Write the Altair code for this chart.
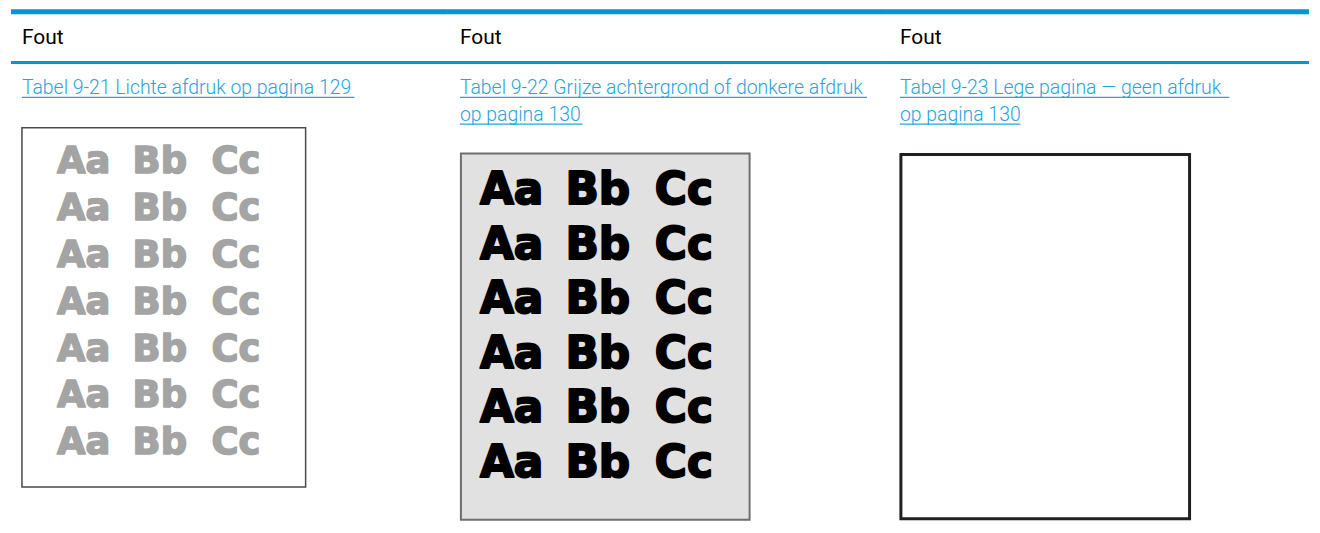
import altair as alt
import pandas as pd

# ---- content ----
HEADERS = ["Fout", "Fout", "Fout"]
LINK_LINES = [
    ["Tabel 9-21 Lichte afdruk op pagina 129"],
    ["Tabel 9-22 Grijze achtergrond of donkere afdruk", "op pagina 130"],
    ["Tabel 9-23 Lege pagina — geen afdruk", "op pagina 130"],
]
SAMPLE_PAIRS = ["Aa", "Bb", "Cc"]
SAMPLE_ROWS = [7, 6, 0]

# ---- styling / layout (panel-local pixels) ----
BLUE = "#0096d6"
LINK = "#2aa2dc"
PANEL_H = 517
LAYOUT = [
    dict(w=439, tx=11, box=(11, 296, 119, 480), fill="#ffffff", stroke="#4a4a4a", sw=1.5,
         gx=(73, 226), gy=(165, 447), fs=37, color="#a4a4a4", tsw=1.6, ul=[345]),
    dict(w=441, tx=12, box=(13, 303, 145, 513), fill="#e1e1e1", stroke="#6e6e6e", sw=2,
         gx=(64, 237), gy=(196, 470), fs=44, color="#000000", tsw=2.0, ul=[421, 135]),
    dict(w=424, tx=13, box=(14, 304, 146, 512), fill="#ffffff", stroke="#231f20", sw=3,
         ul=[344, 134]),
]


def panel(i):
    L = LAYOUT[i]
    W = L["w"]
    tx = L["tx"]
    one = alt.Chart(pd.DataFrame({"k": [0]}))
    layers = [
        one.mark_rule(color=BLUE, strokeWidth=5).encode(
            x=alt.value(0), x2=alt.value(W), y=alt.value(2.5)),
        one.mark_rule(color=BLUE, strokeWidth=3).encode(
            x=alt.value(0), x2=alt.value(W), y=alt.value(53.5)),
        alt.Chart(pd.DataFrame({"t": [HEADERS[i]]})).mark_text(
            align="left", baseline="alphabetic", font="Roboto", fontSize=21,
            color="#000000").encode(x=alt.value(tx), y=alt.value(35), text="t:N"),
    ]
    for j, line in enumerate(LINK_LINES[i]):
        layers.append(
            alt.Chart(pd.DataFrame({"t": [line]})).mark_text(
                align="left", baseline="alphabetic", font="Roboto", fontWeight=300,
                fontSize=19.5, color=LINK).encode(
                x=alt.value(tx), y=alt.value(85 + 27 * j), text="t:N"))
        layers.append(
            one.mark_rule(color=LINK, strokeWidth=1.2).encode(
                x=alt.value(tx), x2=alt.value(L["ul"][j]), y=alt.value(88.5 + 27 * j)))
    x0, x1, y0, y1 = L["box"]
    layers.append(
        one.mark_rect(fill=L["fill"], stroke=L["stroke"], strokeWidth=L["sw"]).encode(
            x=alt.value(x0), x2=alt.value(x1), y=alt.value(y0), y2=alt.value(y1)))
    n = SAMPLE_ROWS[i]
    if n > 0:
        df = pd.DataFrame([{"row": r, "pair": p} for r in range(n) for p in SAMPLE_PAIRS])
        layers.append(
            alt.Chart(df).mark_text(
                font="DejaVu Sans", fontWeight="bold", fontSize=L["fs"],
                color=L["color"], stroke=L["color"], strokeWidth=L["tsw"],
                strokeJoin="round", baseline="alphabetic", align="center").encode(
                x=alt.X("pair:N", sort=SAMPLE_PAIRS, axis=None,
                        scale=alt.Scale(type="point", range=list(L["gx"]), padding=0)),
                y=alt.Y("row:O", axis=None,
                        scale=alt.Scale(type="point", range=list(L["gy"]), padding=0)),
                text="pair:N"))
    return alt.layer(*layers).properties(width=W, height=PANEL_H).resolve_scale(
        x="independent", y="independent")


chart = alt.hconcat(*[panel(i) for i in range(3)], spacing=0, bounds="flush").properties(
    padding=0, background="#ffffff"
).configure_view(stroke=None).configure_concat(spacing=0)

chart.save("out.html", embed_options={"renderer": "svg", "actions": False})
